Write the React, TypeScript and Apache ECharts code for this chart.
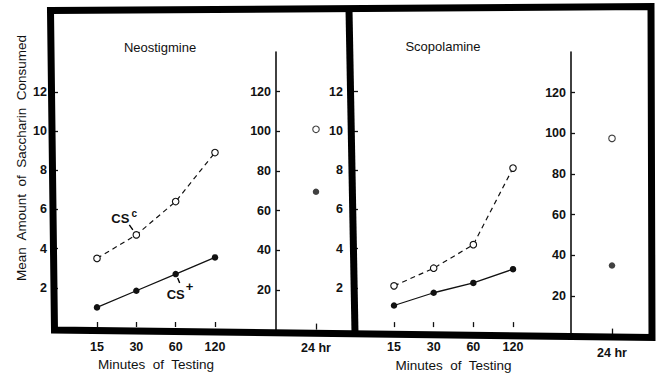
import React, { useEffect, useRef } from 'react';
import * as echarts from 'echarts';

// ---- data ----
const minuteCategories = ['15', '30', '60', '120'];
const dayCategory = ['24 hr'];
const minuteTicks = [2, 4, 6, 8, 10, 12];
const dayTicks = [20, 40, 60, 80, 100, 120];

const panelTitles = ['Neostigmine', 'Scopolamine'];
const yTitle = 'Mean  Amount  of  Saccharin  Consumed';
const xTitle = 'Minutes  of  Testing';

// Neostigmine
const neoCSc = [3.5, 4.7, 6.4, 8.9];
const neoCSplus = [1.0, 1.85, 2.7, 3.55];
const neoDayCSc = [101];
const neoDayCSplus = [69.5];

// Scopolamine
const scoCSc = [2.1, 3.0, 4.2, 8.1];
const scoCSplus = [1.1, 1.75, 2.25, 2.95];
const scoDayCSc = [97.5];
const scoDayCSplus = [35];

const FONT = '"Liberation Sans", Arial, Helvetica, sans-serif';
const INK = '#111';

function catAxis(gridIndex: number, data: string[], margin: number, tickLen: number, name?: string, nameGap?: number) {
  return {
    type: 'category',
    gridIndex,
    data,
    boundaryGap: true,
    axisLine: { show: false },
    axisTick: { show: true, inside: true, alignWithLabel: true, interval: 0, length: tickLen, lineStyle: { color: INK, width: 1.3 } },
    axisLabel: { margin, interval: 0, color: INK, fontSize: 12.5, fontWeight: 'bold', fontFamily: FONT },
    splitLine: { show: false },
    name,
    nameLocation: 'middle',
    nameGap,
    nameTextStyle: { color: INK, fontSize: 13.5, fontFamily: FONT },
  };
}

function minuteYAxis(gridIndex: number, offset: number, margin: number) {
  return {
    type: 'value',
    gridIndex,
    min: 0,
    max: 16,
    interval: 2,
    offset,
    axisLine: { show: false },
    axisTick: { show: true, inside: true, length: 4, customValues: minuteTicks, lineStyle: { color: INK, width: 1.3 } },
    axisLabel: {
      margin,
      customValues: minuteTicks,
      color: INK,
      fontSize: 12.5,
      fontWeight: 'bold',
      fontFamily: FONT,
      formatter: (v: number) => (minuteTicks.indexOf(v) >= 0 ? String(v) : ''),
    },
    splitLine: { show: false },
  };
}

function dayYAxis(gridIndex: number, margin: number) {
  return {
    type: 'value',
    gridIndex,
    min: 0,
    max: 140,
    interval: 20,
    axisLine: { show: true, lineStyle: { color: INK, width: 1.6 } },
    axisTick: { show: true, inside: true, length: 4, customValues: dayTicks, lineStyle: { color: INK, width: 1.3 } },
    axisLabel: {
      margin,
      customValues: dayTicks,
      color: INK,
      fontSize: 12.5,
      fontWeight: 'bold',
      fontFamily: FONT,
      formatter: (v: number) => (dayTicks.indexOf(v) >= 0 ? String(v) : ''),
    },
    splitLine: { show: false },
  };
}

function openSeries(axis: number, data: number[], type: 'line' | 'scatter') {
  return {
    type,
    xAxisIndex: axis,
    yAxisIndex: axis,
    data,
    symbol: 'circle',
    symbolSize: 6.5,
    itemStyle: { color: '#fff', borderColor: INK, borderWidth: 1.1 },
    lineStyle: { color: INK, width: 1.2, type: [5, 4] },
    z: 3,
    silent: true,
  };
}

function filledSeries(axis: number, data: number[], type: 'line' | 'scatter') {
  return {
    type,
    xAxisIndex: axis,
    yAxisIndex: axis,
    data,
    symbol: 'circle',
    symbolSize: 6.5,
    itemStyle: { color: INK, borderColor: INK, borderWidth: 0 },
    lineStyle: { color: INK, width: 1.3, type: 'solid' },
    z: 4,
    silent: true,
  };
}

function txt(x: number, y: number, text: string, fontSize: number, fontWeight = 'normal', rotation = 0) {
  return {
    type: 'text',
    x,
    y,
    rotation,
    silent: true,
    z: 20,
    style: {
      text,
      fontSize,
      fontWeight,
      fontFamily: FONT,
      fill: INK,
      align: 'center',
      verticalAlign: 'middle',
      textAlign: 'center',
      textVerticalAlign: 'middle',
    },
  };
}

function seg(x1: number, y1: number, x2: number, y2: number, w: number) {
  return {
    type: 'line',
    silent: true,
    z: 20,
    shape: { x1, y1, x2, y2 },
    style: { stroke: '#000', lineWidth: w },
  };
}

export default function App() {
  const ref = useRef<HTMLDivElement>(null);

  useEffect(() => {
    const el = ref.current;
    if (!el) return;
    const chart = echarts.init(el, null, { renderer: 'svg' });

    const option: any = {
      animation: false,
      backgroundColor: '#fff',
      grid: [
        { left: 77.33, top: 13.4, width: 157.33, height: 313.6 },
        { left: 276, top: 52, width: 80, height: 277.6 },
        { left: 374.17, top: 13, width: 158.67, height: 320 },
        { left: 571, top: 52, width: 82, height: 284.6 },
      ],
      xAxis: [
        catAxis(0, minuteCategories, 13, 5, xTitle, 29),
        catAxis(1, dayCategory, 12, 6),
        catAxis(2, minuteCategories, 13, 5, xTitle, 27.5),
        catAxis(3, dayCategory, 9.5, 8),
      ],
      yAxis: [minuteYAxis(0, 23.3, 7), dayYAxis(1, 5), minuteYAxis(2, 20.2, 11), dayYAxis(3, 5)],
      series: [
        openSeries(0, neoCSc, 'line'),
        filledSeries(0, neoCSplus, 'line'),
        openSeries(1, neoDayCSc, 'scatter'),
        filledSeries(1, neoDayCSplus, 'scatter'),
        openSeries(2, scoCSc, 'line'),
        filledSeries(2, scoCSplus, 'line'),
        openSeries(3, scoDayCSc, 'scatter'),
        filledSeries(3, scoDayCSplus, 'scatter'),
      ],
    };
    chart.setOption(option);

    // annotation anchors derived from the data through the axes
    const pc = chart.convertToPixel({ xAxisIndex: 0, yAxisIndex: 0 }, [1, neoCSc[1]]) as number[];
    const pp = chart.convertToPixel({ xAxisIndex: 0, yAxisIndex: 0 }, [2, neoCSplus[2]]) as number[];

    const graphics: any[] = [
      // thick outer frame (slightly skewed, as in the scan) and panel divider
      {
        type: 'polygon',
        silent: true,
        z: 10,
        shape: { points: [[50.5, 10.5], [651, 6.5], [652, 337.5], [54.5, 330]] },
        style: { fill: 'none', stroke: '#000', lineWidth: 7, lineJoin: 'miter' },
      },
      seg(349, 9, 355, 333, 7),
      // titles
      txt(160, 47, panelTitles[0], 13),
      txt(443, 46, panelTitles[1], 13),
      txt(21, 158, yTitle, 13.5, 'normal', Math.PI / 2),
      // CS^c annotation
      txt(pc[0] - 16, pc[1] - 16, 'CS', 13, 'bold'),
      txt(pc[0] - 2, pc[1] - 21, 'c', 10, 'bold'),
      seg(pc[0] - 7, pc[1] - 10, pc[0] - 3.5, pc[1] - 5, 1.4),
      // CS+ annotation
      seg(pp[0] + 2, pp[1] + 4, pp[0] + 4, pp[1] + 9, 1.4),
      txt(pp[0], pp[1] + 20, 'CS', 13, 'bold'),
      txt(pp[0] + 14, pp[1] + 12, '+', 13, 'bold'),
    ];
    chart.setOption({ graphic: graphics });

    return () => chart.dispose();
  }, []);

  return (
    <div
      ref={ref}
      style={{ position: 'absolute', left: 0, top: 0, width: 656, height: 377, background: '#fff' }}
    />
  );
}
